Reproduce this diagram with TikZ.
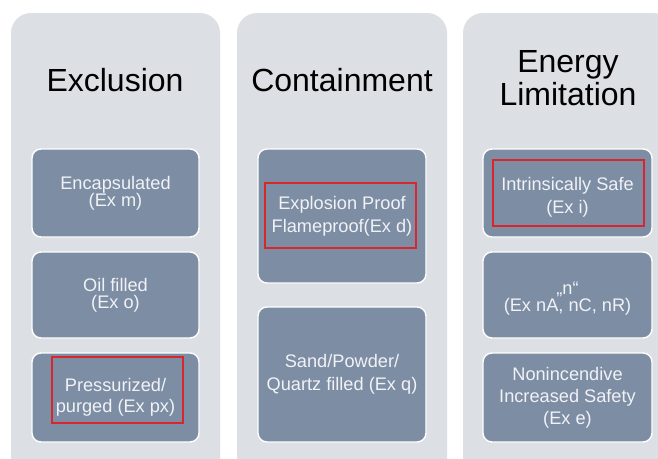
\documentclass[tikz,border=0pt]{standalone}
\usepackage{fontspec}
\setmainfont{Liberation Sans}
\definecolor{panelgray}{HTML}{DCDFE4}
\definecolor{boxblue}{HTML}{7D8DA4}
\definecolor{boxtext}{HTML}{F0F2F6}
\definecolor{markred}{HTML}{D8262E}
\tikzset{
  panel/.style={fill=panelgray, rounded corners=20pt, inner sep=0pt, draw=none},
  title/.style={text=black, font=\fontsize{32}{33}\selectfont, align=center, inner sep=0pt},
  techbox/.style={fill=boxblue, draw=white, line width=1.4pt, rounded corners=9pt, inner sep=0pt, text=boxtext, align=center},
  boxlabel/.style={inner sep=0pt, text=boxtext, align=center},
  tight/.style={font=\fontsize{18.2}{17}\selectfont},
  loose/.style={font=\fontsize{18.2}{23}\selectfont},
  redmark/.style={draw=markred, line width=1.3pt, inner sep=0pt, fill=none}
}
\begin{document}
\begin{tikzpicture}[x=1pt,y=-1pt]
\useasboundingbox (0,0) rectangle (658,458);
\fill[white] (0,0) rectangle (658,458);
\clip (0,0) rectangle (658,458);
% panels
\node[panel, minimum width=209pt, minimum height=480pt] (p1) at (115.5,253) {};
\node[panel, minimum width=210pt, minimum height=480pt] (p2) at (342,253) {};
\node[panel, minimum width=210pt, minimum height=480pt] (p3) at (568,253) {};
% titles
\node[title] (t1) at (115,80) {Exclusion};
\node[title] (t2) at (342,80) {Containment};
\node[title] (t3) at (568,78) {Energy\\Limitation};
% column 1
\node[techbox, tight, minimum width=167pt, minimum height=88pt] (a1) at (115.5,193) {Encapsulated\\(Ex m)};
\node[techbox, tight, minimum width=167pt, minimum height=86pt] (a2) at (115.5,295) {Oil filled\\(Ex o)};
\node[techbox, font=\fontsize{18.2}{21}\selectfont, minimum width=167pt, minimum height=89pt] (a3) at (115.5,397.5) {Pressurized/\\purged (Ex px)};
\node[redmark, minimum width=131pt, minimum height=66pt] (r1) at (117.5,390) {};
% column 2
\node[techbox, loose, minimum width=168pt, minimum height=134pt] (b1) at (342,216) {Explosion Proof\\Flameproof(Ex d)};
\node[techbox, loose, minimum width=168pt, minimum height=135pt] (b2) at (342,374.5) {Sand/Powder/\\Quartz filled (Ex q)};
\node[redmark, minimum width=151pt, minimum height=65pt] (r2) at (340.5,215.5) {};
% column 3
\node[techbox, minimum width=169pt, minimum height=88pt] (c1) at (567.5,193) {};
\node[boxlabel, loose] (c1t) at (567.5,197) {Intrinsically Safe\\(Ex i)};
\node[techbox, tight, minimum width=169pt, minimum height=86pt] (c2) at (567.5,295) {}; 
\node[boxlabel, tight] (c2t) at (567.5,299) {„n“\\(Ex nA, nC, nR)};
\node[techbox, font=\fontsize{18.2}{22}\selectfont, minimum width=169pt, minimum height=89pt] (c3) at (567.5,397.5) {Nonincendive\\Increased Safety\\(Ex e)};
\node[redmark, minimum width=151pt, minimum height=66pt] (r3) at (568.5,193) {};
\end{tikzpicture}
\end{document}
